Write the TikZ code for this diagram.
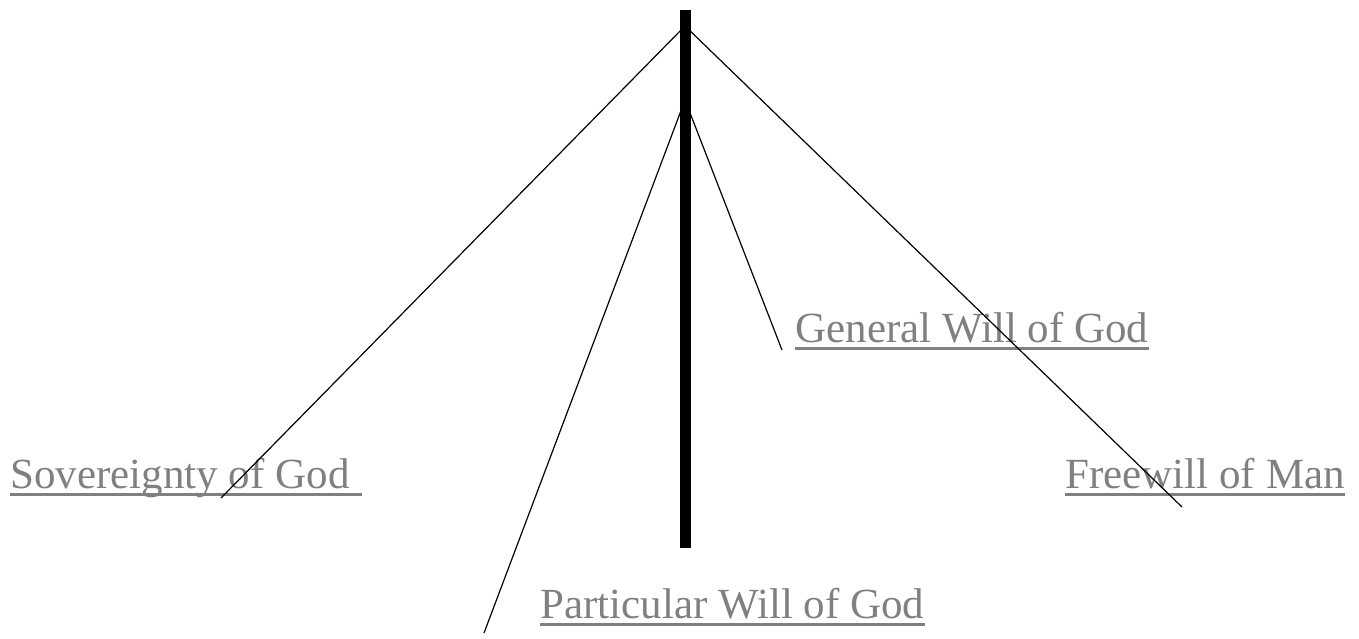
\documentclass[tikz,border=0pt]{standalone}
\usepackage{fontspec}
\setmainfont{Liberation Serif}
\definecolor{labelgray}{HTML}{808080}
\tikzset{
  lbl/.style={anchor=base west, inner sep=0pt, text=labelgray, font=\fontsize{21.5pt}{24pt}\selectfont},
  uline/.style={draw=labelgray, line width=1.5pt},
  thin/.style={draw=black, line width=0.6pt},
  pole/.style={draw=black, line width=5.5pt, line cap=butt}
}
\begin{document}
\begin{tikzpicture}[x=0.5pt,y=-0.5pt]
\useasboundingbox (0,0) rectangle (1359,638);
% pole
\coordinate (poletop) at (685,10);
\coordinate (polebot) at (685,548);
\draw[pole] (poletop) -- (polebot);
% apexes
\coordinate (apexA) at (685,26);
\coordinate (apexB) at (685,100);
% labels
\node[lbl] (sov) at (10,488) {Sovereignty of God\hspace*{6pt}\null};
\node[lbl] (gen) at (795,342) {General Will of God};
\node[lbl] (free) at (1065,488) {Freewill of Man};
\node[lbl] (part) at (540,618) {Particular Will of God};
\foreach \n in {sov,gen,free,part}{
  \draw[uline] ([yshift=-3pt]\n.base west) -- ([yshift=-3pt]\n.base east);
}
% line ends
\coordinate (endS) at (221,498);
\coordinate (endF) at (1182,507);
\coordinate (endG) at (782,350);
\coordinate (endP) at (484,633);
\draw[thin] (apexA) -- (endS);
\draw[thin] (apexA) -- (endF);
\draw[thin] (apexB) -- (endG);
\draw[thin] (apexB) -- (endP);
\end{tikzpicture}
\end{document}
